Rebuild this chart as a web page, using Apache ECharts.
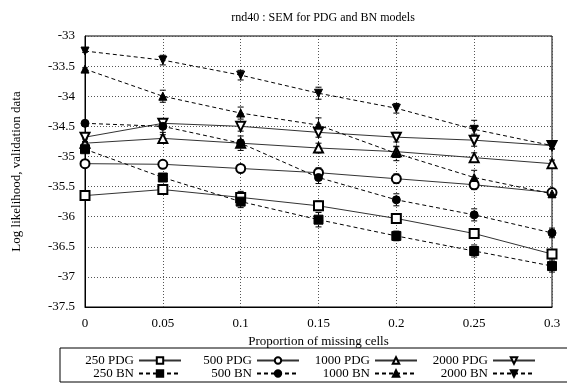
<!DOCTYPE html>
<html><head><meta charset="utf-8">
<script src="https://cdn.jsdelivr.net/npm/echarts@6/dist/echarts.min.js"></script>
<style>html,body{margin:0;padding:0;background:#fff}#c{width:567px;height:389px}</style>
</head><body><div id="c"></div>
<script>
var xs = [0, 0.05, 0.1, 0.15, 0.2, 0.25, 0.3];
var yTicks = [-37.5, -33];
var pdg250 = [-35.65, -35.55, -35.68, -35.82, -36.03, -36.28, -36.62];
var pdg500 = [-35.12, -35.13, -35.2, -35.27, -35.37, -35.47, -35.6];
var pdg1000 = [-34.78, -34.7, -34.78, -34.86, -34.92, -35.02, -35.12];
var pdg2000 = [-34.68, -34.45, -34.5, -34.6, -34.68, -34.73, -34.82];
var bn250 = [-34.88, -35.35, -35.75, -36.05, -36.32, -36.57, -36.82];
var bn500 = [-34.45, -34.5, -34.78, -35.35, -35.72, -35.97, -36.27];
var bn1000 = [-33.55, -34.0, -34.28, -34.48, -34.95, -35.35, -35.62];
var bn2000 = [-33.25, -33.4, -33.65, -33.95, -34.2, -34.55, -34.82];
var errPdg250 = [0.04, 0.06, 0.1, 0.08, 0.08, 0.08, 0.06];
var errPdg500 = [0.03, 0.05, 0.06, 0.08, 0.08, 0.08, 0.06];
var errPdg1000 = [0.03, 0.06, 0.06, 0.08, 0.08, 0.08, 0.06];
var errPdg2000 = [0.03, 0.08, 0.08, 0.08, 0.08, 0.1, 0.06];
var errBn250 = [0.02, 0.06, 0.1, 0.12, 0.08, 0.1, 0.1];
var errBn500 = [0.02, 0.1, 0.12, 0.1, 0.1, 0.1, 0.08];
var errBn1000 = [0.02, 0.1, 0.1, 0.12, 0.12, 0.12, 0.06];
var errBn2000 = [0.02, 0.08, 0.08, 0.1, 0.08, 0.15, 0.05];

var FONT = 'Liberation Serif';
var defs = [
  {name:'250 PDG', y:pdg250, e:errPdg250, sym:'emptyRect', rot:0, dash:false, size:9},
  {name:'500 PDG', y:pdg500, e:errPdg500, sym:'emptyCircle', rot:0, dash:false, size:9},
  {name:'1000 PDG', y:pdg1000, e:errPdg1000, sym:'emptyTriangle', rot:0, dash:false, size:9},
  {name:'2000 PDG', y:pdg2000, e:errPdg2000, sym:'emptyTriangle', rot:180, dash:false, size:9},
  {name:'250 BN', y:bn250, e:errBn250, sym:'rect', rot:0, dash:true, size:9},
  {name:'500 BN', y:bn500, e:errBn500, sym:'circle', rot:0, dash:true, size:8},
  {name:'1000 BN', y:bn1000, e:errBn1000, sym:'triangle', rot:0, dash:true, size:8},
  {name:'2000 BN', y:bn2000, e:errBn2000, sym:'triangle', rot:180, dash:true, size:8}
];

var series = [];
defs.forEach(function(d){
  var errData = xs.map(function(x,i){ return [x, d.y[i]-d.e[i], d.y[i]+d.e[i]]; });
  series.push({
    type:'custom', name:d.name+' err', data:errData, silent:true, z:3,
    renderItem:function(params, api){
      var lo = api.coord([api.value(0), api.value(1)]);
      var hi = api.coord([api.value(0), api.value(2)]);
      var w = 3;
      var st = {stroke:'#000', lineWidth:1, lineDash: d.dash ? [2,2] : null};
      return {type:'group', children:[
        {type:'line', shape:{x1:lo[0],y1:lo[1],x2:hi[0],y2:hi[1]}, style:st},
        {type:'line', shape:{x1:lo[0]-w,y1:lo[1],x2:lo[0]+w,y2:lo[1]}, style:{stroke:'#000',lineWidth:1}},
        {type:'line', shape:{x1:hi[0]-w,y1:hi[1],x2:hi[0]+w,y2:hi[1]}, style:{stroke:'#000',lineWidth:1}}
      ]};
    }
  });
  series.push({
    type:'line', name:d.name, z:4,
    data: xs.map(function(x,i){ return [x, d.y[i]]; }),
    symbol:d.sym, symbolSize:d.size, symbolRotate:d.rot, showAllSymbol:true,
    lineStyle:{color: d.dash ? '#000' : '#333', width:1, type: d.dash ? [4,3] : 'solid'},
    itemStyle:{color:'#000', borderColor:'#000', borderWidth:1},
    emphasis:{disabled:true}, animation:false
  });
});

var iconEnds = [182, 300, 418, 536];
var rowTops = [354, 367];
var legends = defs.map(function(d, i){
  return {
    orient:'horizontal', align:'right', itemWidth:42, itemHeight:8, itemGap:0,
    selectedMode:false,
    right: 567 - iconEnds[i % 4], top: rowTops[Math.floor(i / 4)],
    textStyle:{fontFamily:FONT, fontSize:13, color:'#000'},
    padding:0,
    data:[d.name]
  };
});

var chart = echarts.init(document.getElementById('c'), null, {renderer:'canvas'});
chart.setOption({
  animation:false,
  backgroundColor:'#fff',
  title:{text:'rnd40 : SEM for PDG and BN models', left:318, top:7, textAlign:'center',
    textStyle:{fontFamily:FONT, fontSize:12, fontWeight:'normal', color:'#000'}},
  grid:{left:85, right:15, top:36, bottom:82, show:true, borderColor:'#000', borderWidth:1},
  xAxis:{type:'value', min:xs[0], max:xs[xs.length-1], interval:0.05,
    name:'Proportion of missing cells', nameLocation:'middle', nameGap:25,
    nameTextStyle:{fontFamily:FONT, fontSize:13, color:'#000'},
    axisLine:{show:true, lineStyle:{color:'#000'}}, axisTick:{show:false},
    axisLabel:{fontFamily:FONT, fontSize:13, color:'#000', margin:10},
    splitLine:{show:true, lineStyle:{color:'#555', type:[1,2], width:1}}},
  yAxis:{type:'value', min:yTicks[0], max:yTicks[1], interval:0.5,
    name:'Log likelihood, validation data', nameLocation:'middle', nameGap:62,
    nameTextStyle:{fontFamily:FONT, fontSize:13, color:'#000'},
    axisLine:{show:true, lineStyle:{color:'#000'}}, axisTick:{show:false},
    axisLabel:{fontFamily:FONT, fontSize:13, color:'#000', margin:10},
    splitLine:{show:true, lineStyle:{color:'#555', type:[1,2], width:1}}},
  legend:legends,
  graphic:[{type:'rect', shape:{x:60, y:348, width:520, height:34}, style:{fill:null, stroke:'#000', lineWidth:1}, silent:true}],
  series:series
});
</script></body></html>
